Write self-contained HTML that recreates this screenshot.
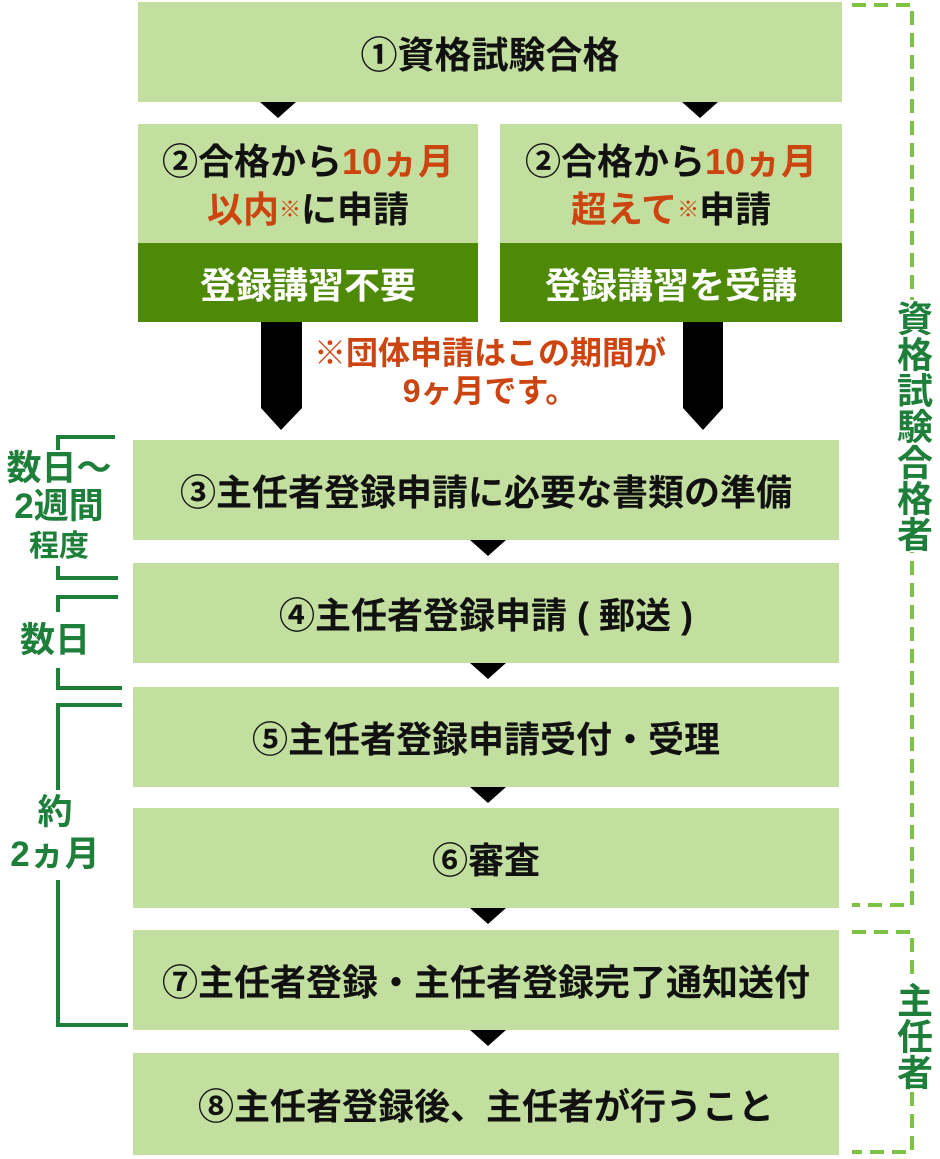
<!DOCTYPE html>
<html><head><meta charset="utf-8"><style>
body{margin:0;width:940px;height:1159px;background:#fff;position:relative;overflow:hidden;font-family:"Liberation Sans","Noto Sans CJK JP",sans-serif;font-weight:bold}
.b{position:absolute;background:#c3df9f;display:flex;align-items:center;justify-content:center;font-size:36px;color:#111}
.d{position:absolute;background:#4e8a08;color:#fff;display:flex;align-items:center;justify-content:center;font-size:36px}
.r{color:#cc4410}
.t{position:absolute;width:0;height:0;border-left:18px solid transparent;border-right:18px solid transparent;border-top:16px solid #000}
.g{position:absolute;color:#1e7f3a;font-size:35px;text-align:center;line-height:38px;background:#fff}
.v{position:absolute;color:#1e7f3a;font-size:36px;writing-mode:vertical-rl;background:#fff;line-height:40px}
.two{flex-direction:column;line-height:48px;padding-top:4px;box-sizing:border-box}
</style></head><body>
<div class="b" style="left:138px;top:2px;width:704px;height:100px;font-size:37px">①資格試験合格</div>
<div class="t" style="left:260px;top:102px"></div>
<div class="t" style="left:682px;top:102px"></div>
<div class="b two" style="left:138px;top:124px;width:340px;height:119px"><div>②合格から<span class="r">10ヵ月</span></div><div><span class="r">以内<small style="font-size:22px;vertical-align:top">※</small></span>に申請</div></div>
<div class="d" style="left:138px;top:243px;width:340px;height:79px">登録講習不要</div>
<div class="b two" style="left:500px;top:124px;width:342px;height:119px"><div>②合格から<span class="r">10ヵ月</span></div><div><span class="r">超えて<small style="font-size:22px;vertical-align:top">※</small></span>申請</div></div>
<div class="d" style="left:500px;top:243px;width:342px;height:79px">登録講習を受講</div>
<svg style="position:absolute;left:0;top:0" width="940" height="1159">
<polygon points="261,322 302,322 302,408 281,430 261,408" fill="#000"/>
<polygon points="683,322 723,322 723,408 703,430 683,408" fill="#000"/>
<g stroke="#1e7f3a" stroke-width="4" fill="none">
<polyline points="115,437 58,437 58,452"/><polyline points="58,555 58,578 118,578"/>
<polyline points="118,597 58,597 58,612"/><polyline points="58,668 58,688 122,688"/>
<polyline points="122,705 58,705 58,790"/><polyline points="58,880 58,1025 128,1025"/>
</g>
<g stroke="#7dc242" stroke-width="4" fill="none" stroke-dasharray="14,8">
<polyline points="852,5 912,5 912,905 852,905"/>
<polyline points="852,932 912,932 912,1152 852,1152"/>
</g>
</svg>
<div style="position:absolute;left:290px;top:334px;width:400px;text-align:center;font-size:32px;line-height:38px;color:#cc4410">※団体申請はこの期間が<br>9ヶ月です。</div>
<div class="b" style="left:133px;top:440px;width:706px;height:100px">③主任者登録申請に必要な書類の準備</div>
<div class="t" style="left:470px;top:540px"></div>
<div class="b" style="left:133px;top:563px;width:706px;height:100px">④主任者登録申請 ( 郵送 )</div>
<div class="t" style="left:470px;top:663px"></div>
<div class="b" style="left:133px;top:687px;width:706px;height:100px">⑤主任者登録申請受付・受理</div>
<div class="t" style="left:470px;top:787px"></div>
<div class="b" style="left:133px;top:808px;width:706px;height:100px">⑥審査</div>
<div class="t" style="left:470px;top:908px"></div>
<div class="b" style="left:133px;top:930px;width:706px;height:100px">⑦主任者登録・主任者登録完了通知送付</div>
<div class="t" style="left:470px;top:1030px"></div>
<div class="b" style="left:133px;top:1053px;width:706px;height:102px">⑧主任者登録後、主任者が行うこと</div>
<div class="g" style="left:2px;top:450px;width:114px">数日～<br>2週間<br><span style="font-size:30px">程度</span></div>
<div class="g" style="left:10px;top:622px;width:90px">数日</div>
<div class="g" style="left:2px;top:792px;width:106px;line-height:42px">約<br>2ヵ月</div>
<div class="v" style="left:892px;top:300px">資格試験合格者</div>
<div class="v" style="left:892px;top:982px">主任者</div>
</body></html>
